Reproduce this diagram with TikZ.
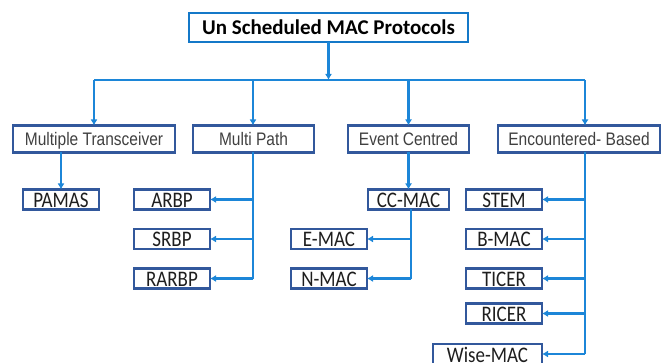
\documentclass[tikz,border=0pt]{standalone}
\usepackage{fontspec}
\setmainfont{Carlito}
\newfontfamily\arialfont{Liberation Sans}
\usetikzlibrary{arrows.meta,calc}
\definecolor{wire}{RGB}{28,134,216}
\definecolor{frame}{RGB}{50,88,156}
\definecolor{topframe}{RGB}{20,120,200}
\definecolor{catText}{RGB}{64,64,64}
\definecolor{leafText}{RGB}{30,30,30}
% slightly tall lettering for the lower levels
\newcommand{\tall}[1]{\scalebox{1}[1.17]{#1}}
\tikzset{
  box/.style={draw=frame, line width=2.5pt, fill=white, inner sep=0pt, outer sep=0pt},
  rootbox/.style={box, draw=topframe, minimum width=279pt, minimum height=29pt,
    text height=13.5pt, text depth=0pt,
    font=\fontsize{21}{22}\selectfont\bfseries, text=black},
  catbox/.style={box, minimum height=27pt, text height=13pt, text depth=0pt,
    font=\arialfont\fontsize{15.5}{17}\selectfont, text=catText},
  leafbox/.style={box, minimum height=20pt, text height=16pt, text depth=0pt,
    font=\fontsize{19}{20}\selectfont, text=leafText},
  link/.style={draw=wire, line width=2.5pt},
  feed/.style={link, -{Latex[length=6pt,width=7pt]}},
}
\begin{document}
\begin{tikzpicture}[x=1pt,y=-1pt]
\useasboundingbox (0,0) rectangle (663,363);

% root
\node[rootbox] (root) at (328.5,27.5) {Un Scheduled MAC Protocols};

% categories
\node[catbox, minimum width=162pt] (mt) at (94,139) {\tall{Multiple Transceiver}};
\node[catbox, minimum width=121pt] (mp) at (253.5,139) {\tall{Multi Path}};
\node[catbox, minimum width=121pt] (ec) at (408.5,139) {\tall{Event Centred}};
\node[catbox, minimum width=162pt] (eb) at (579,139) {\tall{Encountered- Based}};

% leaves
\node[leafbox, minimum width=76pt] (pamas) at (61,199.5) {\tall{PAMAS}};
\node[leafbox, minimum width=76pt] (arbp)  at (172,199.5) {\tall{ARBP}};
\node[leafbox, minimum width=76pt] (srbp)  at (172,239) {\tall{SRBP}};
\node[leafbox, minimum width=76pt] (rarbp) at (172,278.5) {\tall{RARBP}};
\node[leafbox, minimum width=81pt] (ccmac) at (408.5,199.5) {\tall{CC-MAC}};
\node[leafbox, minimum width=76pt] (emac)  at (329,239) {\tall{E-MAC}};
\node[leafbox, minimum width=76pt] (nmac)  at (329,278.5) {\tall{N-MAC}};
\node[leafbox, minimum width=76pt] (stem)  at (504,199.5) {\tall{STEM}};
\node[leafbox, minimum width=76pt] (bmac)  at (504,239) {\tall{B-MAC}};
\node[leafbox, minimum width=76pt] (ticer) at (504,278.5) {\tall{TICER}};
\node[leafbox, minimum width=76pt] (ricer) at (504,313.5) {\tall{RICER}};
\node[leafbox, minimum width=109pt] (wise) at (487.5,354) {\tall{Wise-MAC}};

% trunk lines
\coordinate (bus) at (0,80);
\coordinate (mpv) at (253,0);
\coordinate (ccv) at (411,0);
\coordinate (ebv) at (585,0);

% root to bus
\draw[feed] (root.south) -- (root.south |- bus);
\draw[link] (mt.north |- bus) -- (ebv |- bus);
\draw[feed] (mt.north |- bus) -- (mt.north);
\draw[feed] (mpv |- bus) -- (mpv |- mp.north);
\draw[feed] (ec.north |- bus) -- (ec.north);
\draw[feed] (ebv |- bus) -- (ebv |- eb.north);

% Multiple Transceiver
\draw[feed] (pamas.north |- mt.south) -- (pamas.north);

% Multi Path
\draw[link] (mpv |- mp.south) -- (mpv |- rarbp.east);
\draw[feed] (mpv |- arbp.east) -- (arbp.east);
\draw[feed] (mpv |- srbp.east) -- (srbp.east);
\draw[feed] (mpv |- rarbp.east) -- (rarbp.east);

% Event Centred
\draw[feed] (ec.south) -- (ccmac.north);
\draw[link] (ccv |- ccmac.south) -- (ccv |- nmac.east);
\draw[feed] (ccv |- emac.east) -- (emac.east);
\draw[feed] (ccv |- nmac.east) -- (nmac.east);

% Encountered-Based
\draw[link] (ebv |- eb.south) -- (ebv |- wise.east);
\draw[feed] (ebv |- stem.east) -- (stem.east);
\draw[feed] (ebv |- bmac.east) -- (bmac.east);
\draw[feed] (ebv |- ticer.east) -- (ticer.east);
\draw[feed] (ebv |- ricer.east) -- (ricer.east);
\draw[feed] (ebv |- wise.east) -- (wise.east);
\end{tikzpicture}
\end{document}
